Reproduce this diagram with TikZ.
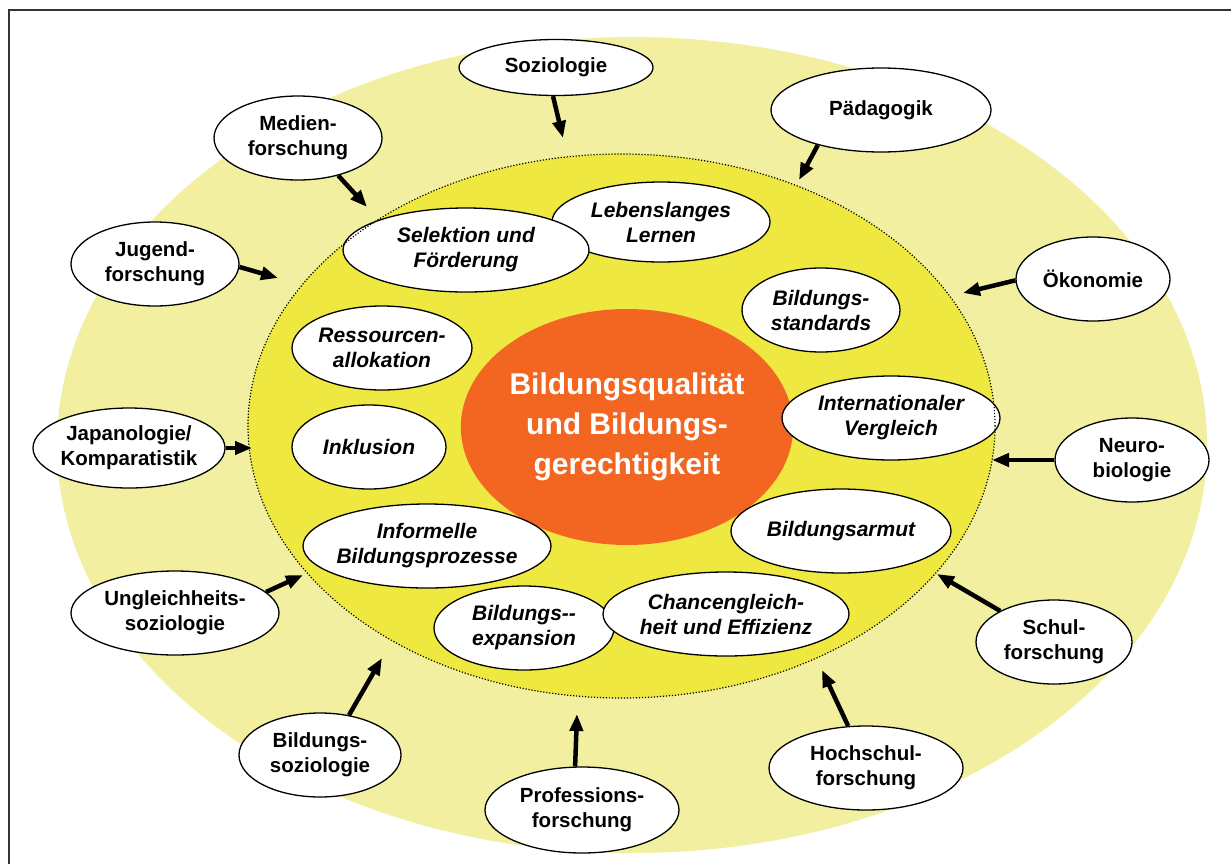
\documentclass[tikz,border=0pt]{standalone}
\usepackage{fontspec}
\setmainfont{Liberation Sans}
\usetikzlibrary{shapes.geometric,arrows.meta}
\definecolor{outerY}{HTML}{F2F0A0}
\definecolor{innerY}{HTML}{EEE840}
\definecolor{orangeC}{HTML}{F26622}
\begin{document}
\begin{tikzpicture}[x=1pt,y=-1pt,
  oval/.style={ellipse, draw=black, line width=1.3pt, fill=white, inner xsep=-20pt, inner ysep=-10pt,
    align=center, font=\fontsize{20.5}{25}\selectfont\bfseries},
  topic/.style={oval, font=\fontsize{21}{25}\selectfont\bfseries\itshape},
  arr/.style={line width=4.5pt, -{Triangle[length=17pt,width=13pt]}},
]
\useasboundingbox (0,0) rectangle (1231,863);
\fill[white] (0,0) rectangle (1231,863);
\draw[line width=2pt, draw=black!80] (9,900) -- (9,10) -- (1260,10);

% background rings
\fill[outerY] (632,445) ellipse [x radius=575pt, y radius=408pt];
\fill[innerY] (621.5,426) ellipse [x radius=373.5pt, y radius=272pt];

% centre
\node[ellipse, fill=orangeC, minimum width=330pt, minimum height=236pt, inner sep=0pt,
  align=center, text=white, font=\fontsize{30}{40}\selectfont\bfseries] (core) at (627,427)
  {Bildungsqualität\\und Bildungs-\\gerechtigkeit};

% inner topics
\node[topic, minimum width=218pt, minimum height=80pt] (leb) at (661,222) {Lebenslanges\\Lernen};
\node[topic, minimum width=246pt, minimum height=84pt] (sel) at (466,250) {Selektion und\\Förderung};
\node[topic, minimum width=158pt, minimum height=84pt] (std) at (821,310) {Bildungs-\\standards};
\node[topic, minimum width=180pt, minimum height=84pt] (res) at (382,348) {Ressourcen-\\allokation};
\node[topic, minimum width=218pt, minimum height=84pt] (int) at (891,418) {Internationaler\\Vergleich};
\node[topic, minimum width=154pt, minimum height=84pt] (ink) at (369,447) {Inklusion};
\node[topic, minimum width=220pt, minimum height=84pt] (arm) at (841,531) {Bildungsarmut};
\node[topic, minimum width=248pt, minimum height=84pt] (inf) at (427,546) {Informelle\\Bildungsprozesse};
\node[topic, minimum width=180pt, minimum height=84pt] (exp) at (524,628) {Bildungs-\kern0pt-\\expansion};
\node[topic, minimum width=246pt, minimum height=84pt] (cha) at (726,614) {Chancengleich-\\heit und Effizienz};

% dotted boundary
\draw[line width=1.2pt, dash pattern=on 1.2pt off 1.8pt] (621.5,426) ellipse [x radius=373.5pt, y radius=272pt];

% outer disciplines
\node[oval, minimum width=194pt, minimum height=56pt] (soz) at (556,67.5) {Soziologie};
\node[oval, minimum width=220pt, minimum height=84pt] (ped) at (881,110) {Pädagogik};
\node[oval, minimum width=168pt, minimum height=84pt] (med) at (298,138) {Medien-\\forschung};
\node[oval, minimum width=168pt, minimum height=84pt] (jug) at (155,264) {Jugend-\\forschung};
\node[oval, minimum width=154pt, minimum height=84pt] (oko) at (1093,279) {Ökonomie};
\node[oval, minimum width=192pt, minimum height=80pt] (jap) at (129,448) {Japanologie/\\Komparatistik};
\node[oval, minimum width=154pt, minimum height=84pt] (neu) at (1132,460) {Neuro-\\biologie};
\node[oval, minimum width=208pt, minimum height=84pt] (ung) at (175,613) {Ungleichheits-\\soziologie};
\node[oval, minimum width=156pt, minimum height=84pt] (sch) at (1054,642) {Schul-\\forschung};
\node[oval, minimum width=162pt, minimum height=84pt] (bso) at (320,755) {Bildungs-\\soziologie};
\node[oval, minimum width=194pt, minimum height=84pt] (hoc) at (866,768) {Hochschul-\\forschung};
\node[oval, minimum width=194pt, minimum height=86pt] (pro) at (582,810) {Professions-\\forschung};

% arrow targets
\coordinate (eSoz) at (563,138);
\coordinate (ePed) at (799,180);
\coordinate (eMed) at (367,207);
\coordinate (eJug) at (278,278);
\coordinate (eOko) at (963,293);
\coordinate (eJap) at (252,448);
\coordinate (eNeu) at (992,460);
\coordinate (eUng) at (303,575);
\coordinate (eSch) at (937,574);
\coordinate (eBso) at (382,658);
\coordinate (ePro) at (577,714);
\coordinate (eHoc) at (822,670);

% arrows
\draw[arr] (soz.264) -- (eSoz);
\draw[arr] (ped.209) -- (ePed);
\draw[arr] (med.317) -- (eMed);
\draw[arr] (jug.358) -- (eJug);
\draw[arr] (oko.181) -- (eOko);
\draw[arr] (jap.east) -- (eJap);
\draw[arr] (neu.west) -- (eNeu);
\draw[arr] (ung.13) -- (eUng);
\draw[arr] (sch.150) -- (eSch);
\draw[arr] (bso.54) -- (eBso);
\draw[arr] (pro.99) -- (ePro);
\draw[arr] (hoc.113) -- (eHoc);
\end{tikzpicture}
\end{document}
